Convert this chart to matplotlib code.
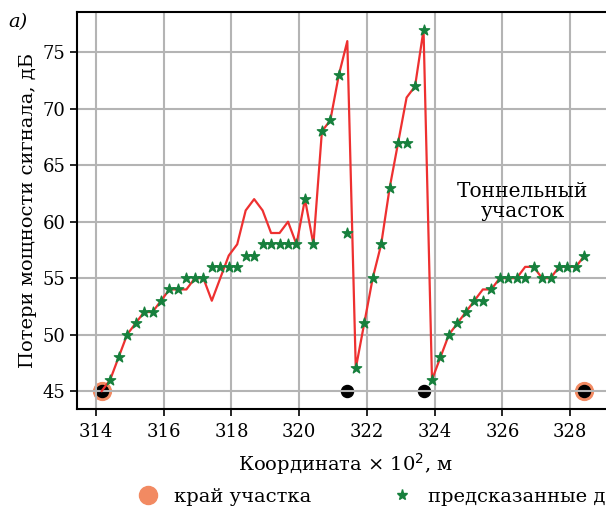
import matplotlib
matplotlib.use("Agg")
import matplotlib.pyplot as plt
from matplotlib.lines import Line2D

plt.rcParams['font.family'] = ['DejaVu Serif']

# coordinates (x 10^2 m), step 0.25
x = [314.17 + 0.25 * k for k in range(58)]

measured = [45, 46, 48, 50, 51, 52, 52, 53, 54, 54,
            54, 55, 55, 53, 55, 57, 58, 61, 62, 61,
            59, 59, 60, 58, 62, 58, 68, 69, 73, 76,
            47, 51, 55, 58, 63, 67, 71, 72, 77, 46,
            48, 50, 51, 52, 53, 54, 54, 55, 55, 55,
            56, 56, 55, 55, 56, 56, 56, 57]

predicted = [None, 46, 48, 50, 51, 52, 52, 53, 54, 54,
             55, 55, 55, 56, 56, 56, 56, 57, 57, 58,
             58, 58, 58, 58, 62, 58, 68, 69, 73, 59,
             47, 51, 55, 58, 63, 67, 67, 72, 77, 46,
             48, 50, 51, 52, 53, 53, 54, 55, 55, 55,
             55, 56, 55, 55, 56, 56, 56, 57]

edge_x = [314.17, 328.42]
edge_y = [45, 45]
bound_x = [314.17, 321.42, 323.67, 328.42]
bound_y = [45, 45, 45, 45]

px = [xi for xi, v in zip(x, predicted) if v is not None]
py = [v for v in predicted if v is not None]

fig = plt.figure(figsize=(6.06, 5.12), dpi=100)
ax = fig.add_axes([0.1276, 0.201, 0.886, 0.776])

ax.set_axisbelow('line')
ax.grid(True, color='#b4b4b4', linewidth=1.5)

ax.scatter(edge_x, edge_y, s=165, color='#f28a62', zorder=1)
ax.scatter(bound_x, bound_y, s=75, color='black', zorder=1)
ax.plot(x, measured, color='#ee3030', linewidth=1.6, zorder=2)
ax.scatter(px, py, marker='*', s=60, color='#17803d', zorder=3)

ax.set_xlim(313.45, 329.3)
ax.set_ylim(43.4, 78.6)
ax.set_xticks([314, 316, 318, 320, 322, 324, 326, 328])
ax.set_yticks([45, 50, 55, 60, 65, 70, 75])
ax.tick_params(labelsize=13, length=5, width=1.2)
ax.tick_params(axis='x', pad=5)
for s in ax.spines.values():
    s.set_linewidth(1.5)

ax.set_xlabel('Координата × 10$^2$, м', fontsize=14, labelpad=7)
ax.set_ylabel('Потери мощности сигнала, дБ', fontsize=14)

ax.text(326.6, 61.8, 'Тоннельный\nучасток', fontsize=14.5, ha='center',
        va='center', linespacing=1.1)
fig.text(0.013, 0.975, 'a)', fontsize=14, style='italic', va='top')

handles = [
    Line2D([], [], marker='o', linestyle='none', color='#f28a62', markersize=13),
    Line2D([], [], marker='*', linestyle='none', color='#17803d', markersize=8),
]
labels = ['край участка', 'предсказанные данные']
fig.legend(handles, labels, loc='center left', bbox_to_anchor=(0.2, 0.03),
           ncol=2, frameon=False, fontsize=14, handlelength=1.0,
           columnspacing=4.2)

fig.savefig('out.png', dpi=100)
